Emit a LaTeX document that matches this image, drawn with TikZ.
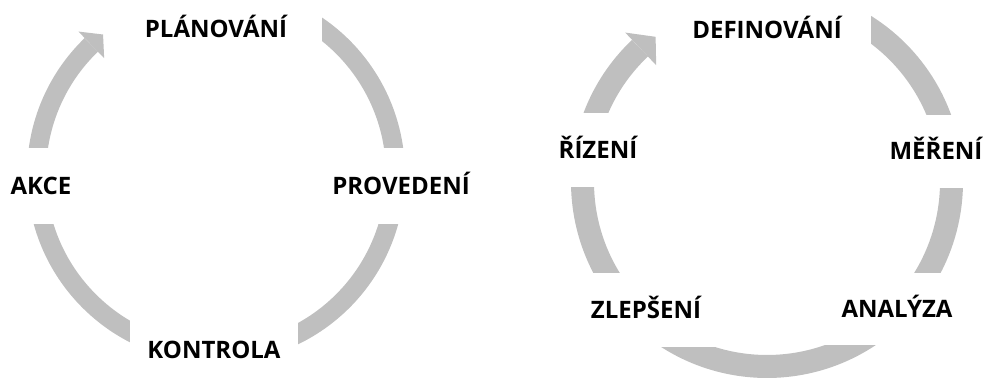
\documentclass[tikz,border=0pt]{standalone}
\usepackage{fontspec}
\setmainfont{Open Sans}
\usetikzlibrary{calc}
\definecolor{ringgray}{RGB}{191,191,191}
\begin{document}
\begin{tikzpicture}[x=1pt,y=1pt,
  ring/.style={draw=ringgray, line cap=butt},
  stage/.style={fill=white, inner sep=0pt, text height=17pt, text depth=0pt,
    font=\fontsize{24}{28}\selectfont\bfseries}]
\useasboundingbox (0,0) rectangle (988,379);
\coordinate (L) at (216,205);
\coordinate (R) at (767,197);

% PDCA cycle: ring with arrow head pointing towards the top
\draw[ring, line width=19pt] ($(L)+(134:179.5)$) arc[start angle=134, end angle=420, radius=179.5];
\fill[ringgray] ($(L)+(134:198)$) -- ($(L)+(129:179.5)$) -- ($(L)+(134:161)$) -- cycle;

% DMAIC cycle
\draw[ring, line width=23pt] ($(R)+(133.5:184.5)$) arc[start angle=133.5, end angle=420, radius=184.5];
\fill[ringgray] ($(R)+(133.5:206)$) -- ($(R)+(127.5:183)$) -- ($(R)+(133.5:161)$) -- cycle;

% stage labels; their white boxes cut the ring into segments
\node[stage, minimum width=212pt, minimum height=46pt] (plan) at (216,350) {PLÁNOVÁNÍ};
\node[stage, minimum width=142pt, minimum height=76pt] (prov) at (401,193) {PROVEDENÍ};
\node[stage, minimum width=82pt,  minimum height=76pt] (akce) at (41,193) {AKCE};
\node[stage, minimum width=168pt, minimum height=64pt] (kontr) at (214,29) {KONTROLA};

\node[stage, minimum width=208pt, minimum height=48pt] (def) at (767,349) {DEFINOVÁNÍ};
\node[stage, minimum width=112pt, minimum height=73pt] (mer) at (936,227.5) {MĚŘENÍ};
\node[stage, minimum width=116pt, minimum height=74pt] (riz) at (598,229) {ŘÍZENÍ};
\node[stage, minimum width=156pt, minimum height=72pt] (anal) at (897,70) {ANALÝZA};
\node[stage, minimum width=140pt, minimum height=74pt] (zlep) at (646,69) {ZLEPŠENÍ};
\end{tikzpicture}
\end{document}
